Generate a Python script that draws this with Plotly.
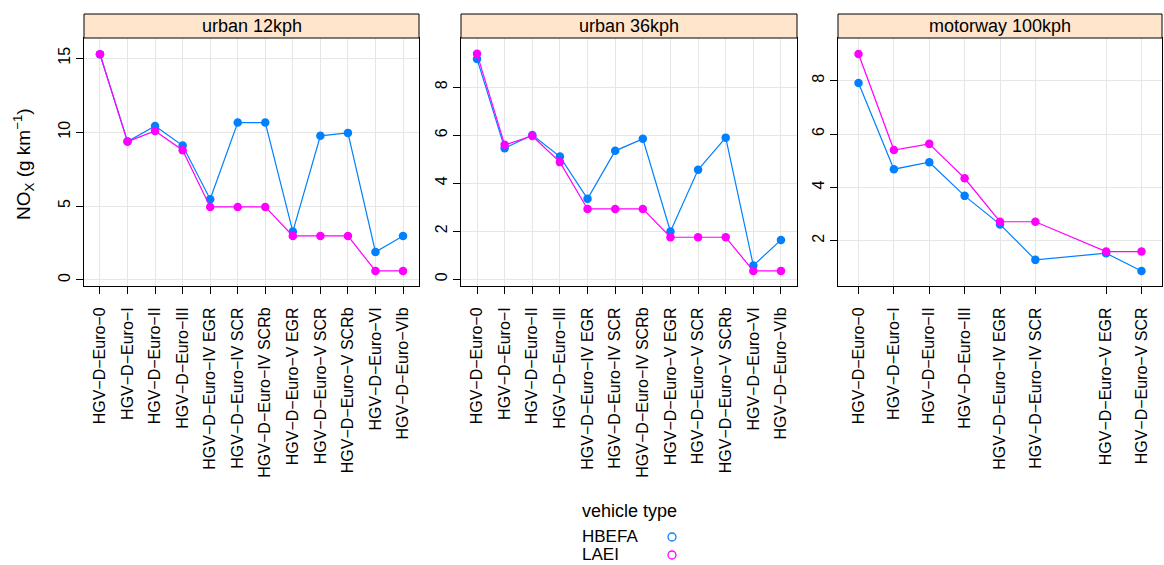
import plotly.graph_objects as go

W, H = 1164, 565

all_categories = [
    "HGV−D−Euro−0", "HGV−D−Euro−I", "HGV−D−Euro−II", "HGV−D−Euro−III",
    "HGV−D−Euro−IV EGR", "HGV−D−Euro−IV SCR", "HGV−D−Euro−IV SCRb",
    "HGV−D−Euro−V EGR", "HGV−D−Euro−V SCR", "HGV−D−Euro−V SCRb",
    "HGV−D−Euro−VI", "HGV−D−Euro−VIb",
]

panels = ["urban 12kph", "urban 36kph", "motorway 100kph"]

cats_urban12 = all_categories
hbefa_urban12 = [15.27, 9.36, 10.42, 9.09, 5.46, 10.65, 10.65, 3.27, 9.75, 9.95, 1.89, 2.98]
laei_urban12 = [15.27, 9.36, 10.08, 8.78, 4.94, 4.94, 4.94, 2.98, 2.98, 2.98, 0.61, 0.61]

cats_urban36 = all_categories
hbefa_urban36 = [9.18, 5.46, 6.01, 5.11, 3.35, 5.35, 5.85, 1.99, 4.56, 5.90, 0.57, 1.64]
laei_urban36 = [9.39, 5.60, 5.97, 4.88, 2.93, 2.93, 2.93, 1.75, 1.75, 1.75, 0.35, 0.35]

cats_motorway = [
    "HGV−D−Euro−0", "HGV−D−Euro−I", "HGV−D−Euro−II", "HGV−D−Euro−III",
    "HGV−D−Euro−IV EGR", "HGV−D−Euro−IV SCR", "HGV−D−Euro−V EGR", "HGV−D−Euro−V SCR",
]
hbefa_motorway = [7.91, 4.68, 4.94, 3.68, 2.61, 1.28, 1.53, 0.86]
laei_motorway = [9.00, 5.40, 5.63, 4.34, 2.71, 2.71, 1.59, 1.59]

y_ticks = [[0, 5, 10, 15], [0, 2, 4, 6, 8], [2, 4, 6, 8]]
y_ranges = [[-0.41, 16.37], [-0.28, 10.05], [0.3, 9.6]]

series_names = ["HBEFA", "LAEI"]
series_colors = ["#0080ff", "#ff00ff"]

data = [
    (cats_urban12, hbefa_urban12, laei_urban12),
    (cats_urban36, hbefa_urban36, laei_urban36),
    (cats_motorway, hbefa_motorway, laei_motorway),
]

# layout in pixels
panel_x = [(84, 419), (461, 797), (838, 1162)]
plot_top, plot_bottom = 38, 286
strip_top = 14

def px_x(p):
    return p / W

def px_y(p):
    return 1 - p / H

fig = go.Figure()
font = "Liberation Sans, Arial, Helvetica, sans-serif"

shapes = []
annotations = []

for i, (cats, hb, la) in enumerate(data):
    xpos = [all_categories.index(c) for c in cats]
    xa = "x" if i == 0 else f"x{i+1}"
    ya = "y" if i == 0 else f"y{i+1}"
    for name, vals, col in zip(series_names, [hb, la], series_colors):
        fig.add_trace(go.Scatter(
            x=xpos, y=vals, mode="lines+markers", name=name,
            line=dict(color=col, width=1.2),
            marker=dict(color=col, size=8.5),
            xaxis=xa, yaxis=ya, showlegend=False,
        ))
    xmax = max(xpos)
    axis_common = dict(
        showline=True, linecolor="black", linewidth=1, mirror=True,
        ticks="outside", ticklen=7, tickcolor="black", tickwidth=1,
        showgrid=True, gridcolor="#e6e6e6", gridwidth=1, zeroline=False,
    )
    fig.update_layout(**{
        ("xaxis" if i == 0 else f"xaxis{i+1}"): dict(
            axis_common,
            domain=[px_x(panel_x[i][0]), px_x(panel_x[i][1])],
            anchor=ya, range=[-0.58, xmax + 0.58],
            tickvals=xpos, ticktext=cats, tickangle=-90,
            tickfont=dict(family=font, size=16, color="black"),
            ticklabelstandoff=7,
        ),
        ("yaxis" if i == 0 else f"yaxis{i+1}"): dict(
            axis_common,
            domain=[px_y(plot_bottom), px_y(plot_top)],
            anchor=xa, range=y_ranges[i],
            tickvals=y_ticks[i], tickangle=-90,
            tickfont=dict(family=font, size=16, color="black"),
        ),
    })
    # strip
    shapes.append(dict(
        type="rect", xref="paper", yref="paper",
        x0=px_x(panel_x[i][0]), x1=px_x(panel_x[i][1]),
        y0=px_y(plot_top), y1=px_y(strip_top),
        fillcolor="#ffe5cc", line=dict(color="black", width=1), layer="above",
    ))
    annotations.append(dict(
        text=panels[i], xref="paper", yref="paper",
        x=(px_x(panel_x[i][0]) + px_x(panel_x[i][1])) / 2,
        y=(px_y(plot_top) + px_y(strip_top)) / 2,
        showarrow=False, xanchor="center", yanchor="middle",
        font=dict(family=font, size=18, color="black"),
    ))

# y-axis title
annotations.append(dict(
    text="NO<sub>X</sub> (g km<sup>−1</sup>)", xref="paper", yref="paper",
    x=px_x(23), y=px_y(164), textangle=-90, showarrow=False,
    xanchor="center", yanchor="middle",
    font=dict(family=font, size=19, color="black"),
))

# legend (key)
annotations.append(dict(
    text="vehicle type", xref="paper", yref="paper",
    x=px_x(629), y=px_y(511), showarrow=False, xanchor="center", yanchor="middle",
    font=dict(family=font, size=18, color="black"),
))
for j, (name, col) in enumerate(zip(series_names, series_colors)):
    yc = 536 + j * 18
    annotations.append(dict(
        text=name, xref="paper", yref="paper",
        x=px_x(580), y=px_y(yc), showarrow=False, xanchor="left", yanchor="middle",
        font=dict(family=font, size=17, color="black"),
    ))
    shapes.append(dict(
        type="circle", xref="paper", yref="paper",
        xsizemode="pixel", ysizemode="pixel",
        xanchor=px_x(672), yanchor=px_y(yc + 1),
        x0=-4, x1=4, y0=-4, y1=4,
        line=dict(color=col, width=1.3), fillcolor="rgba(0,0,0,0)",
    ))

fig.update_layout(
    width=W, height=H, margin=dict(l=0, r=0, t=0, b=0),
    plot_bgcolor="white", paper_bgcolor="white",
    shapes=shapes, annotations=annotations, showlegend=False,
    font=dict(family=font, color="black"),
)

fig.write_html("out.html")
